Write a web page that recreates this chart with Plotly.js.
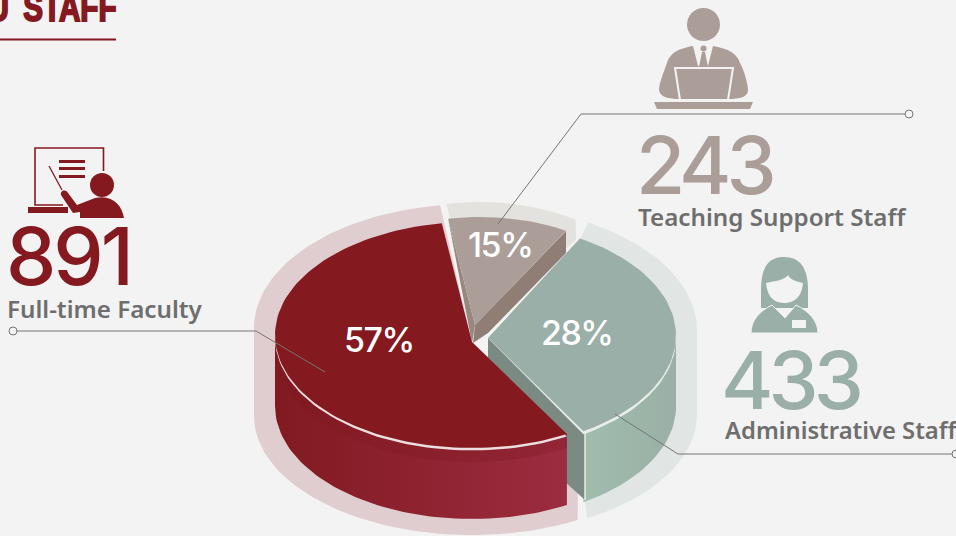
<!DOCTYPE html>
<html><head><meta charset="utf-8">
<script src="https://cdn.plot.ly/plotly-3.0.1.min.js"></script>
<style>
html,body{margin:0;padding:0;background:#f3f3f3;overflow:hidden}
#c{width:956px;height:536px}
g.annotation[data-index="0"] text{letter-spacing:-3px}
g.annotation[data-index="1"] text{letter-spacing:-5px}
g.annotation[data-index="2"] text{letter-spacing:-5px}
g.annotation[data-index="6"] text,g.annotation[data-index="7"] text,g.annotation[data-index="8"] text{letter-spacing:-1.5px}
g.annotation[data-index="9"] text{stroke:#841a20;stroke-width:2px;word-spacing:8px;transform-box:fill-box;transform-origin:100% 100%;transform:scaleX(.78)}
</style></head><body><div id="c"></div>
<script>
const categories=['Full-time Faculty','Teaching Support Staff','Administrative Staff'];
const counts=[891,243,433];
const shares=['57%','15%','28%'];
const title='U STAFF';

const RED='#841a20',GREY='#ab9e99',TEAL='#9aafa7',INK='#6e6e6e',BG='#f3f3f3';
const total=counts.reduce((a,b)=>a+b,0);
// Perspective of the drawing: where each wedge starts and how much it is foreshortened
const startAngle=[151.2,-10.2,30.8], warp=[0.977,0.693,1.178];
const sweep=counts.map((v,i)=>v/total*360*warp[i]);
const pt=(e,t)=>[e.cx+e.rx*Math.sin(t*Math.PI/180),e.cy-e.ry*Math.cos(t*Math.PI/180)];
function arc(e,a,b){const o=[],n=Math.max(2,Math.ceil(Math.abs(b-a)/2));
  for(let i=0;i<=n;i++)o.push(pt(e,a+(b-a)*i/n));return o;}
function poly(points,fill,extra){return Object.assign({type:'scatter',mode:'lines',x:points.map(p=>p[0]),y:points.map(p=>p[1]),
  fill:'toself',fillcolor:fill,line:{width:0},hoverinfo:'skip',showlegend:false},extra||{});}
const grad=(a,b)=>({fillgradient:{type:'horizontal',colorscale:[[0,a],[1,b]]}});

// ellipses
const eR={cx:472,cy:335,rx:197,ry:113}, eG={cx:480,cy:330,rx:180,ry:113}, eT={cx:479,cy:335.5,rx:197,ry:113};
const depth=71;
const down=(e,d)=>Object.assign({},e,{cy:e.cy+d});
const rA=startAngle[0], rB=rA+sweep[0], gA=startAngle[1], gB=gA+sweep[1], tA=startAngle[2], tB=tA+sweep[2];
const apexR=[472,342], apexG=[475,325], apexT=[488,338];

const haloRt={cx:472,cy:328,rx:218,ry:124}, haloRb={cx:472,cy:416,rx:218,ry:119};
const haloTt={cx:479,cy:330,rx:218,ry:124}, haloTb={cx:479,cy:415,rx:218,ry:119};
const haloGt={cx:480,cy:318,rx:180,ry:116};

const traces=[
 // halos
 poly([apexR,...arc(haloRt,rB+0.4,270),...arc(haloRb,270,151),[578,440]],'#e0cdd0'),
 poly([apexG,...arc(haloGt,gA-0.5,gB+3.6),[576,240]],'#e4e2df'),
 poly([[580,240],...arc(haloTt,30,90),...arc(haloTb,90,150.2),[585,502],[585,432],apexT],'#e1e6e4'),
 // grey walls
 poly([[566,231],[566,253],[488,333],[473,343],apexG],'#8f7d76'),
 poly([pt(eG,gA),apexG,[472,343]],'#97877f'),
 // teal side
 poly([...arc(eT,90,tB),...arc(down(eT,depth),tB,90)],'#9bb0a7',grad('#9fbdad','#9bafa6')),
 // teal inner wall
 poly([apexT,[585,432],[585,500],[488,412]],'#7b8a83'),
 // red side
 poly([...arc(eR,270,rA),...arc(down(eR,depth),rA,270)],RED,grad('#811a20','#9c2c40')),
 poly([...arc(eR,270,rA),...arc(down(eR,14),rA,270)],'rgba(125,22,32,0.3)'),
 // cream rims
 poly([apexR,...arc(down(eR,2.5),rA,rA+116),apexR],'#eddfdf'),
 poly([apexT,...arc(down(eT,3),tA+50,tB)],'#e9eeeb'),
 // tops
 poly([apexG,...arc(eG,gA,gB)],GREY),
 poly([apexT,...arc(eT,tA,tB)],TEAL),
 poly([apexR,...arc(eR,rA,rB)],RED)
];

const label=(x,y,text,size,color,font,xanchor,weight)=>({xref:'x',yref:'y',x,y,text,showarrow:false,xanchor:xanchor||'left',yanchor:'middle',
  font:{family:font,size,color,weight:weight||400},align:'left'});
const NUM='Inter, sans-serif', TXT='"Noto Sans", sans-serif';
const annotations=[
 label(4,255,String(counts[0]),80,RED,NUM,'left',500),
 label(634,164,String(counts[1]),80,GREY,NUM,'left',500),
 label(719,379,String(counts[2]),80,TEAL,NUM,'left',500),
 label(5,308,categories[0],24.2,INK,TXT,'left',600),
 label(636,216,categories[1],24.2,INK,TXT,'left',600),
 label(723,430,categories[2],23.8,INK,TXT,'left',600),
 label(381,339,shares[0],34,'#ffffff',NUM,'center',500),
 label(502,244,shares[1],34,'#ffffff',NUM,'center',500),
 label(579,332,shares[2],34,'#ffffff',NUM,'center',500),
 label(110.5,8,title,38,RED,'"Liberation Sans Narrow", sans-serif','right',700)
];

const line=(d,c,w)=>({type:'path',path:d,line:{color:c,width:w},layer:'above',xref:'x',yref:'y'});
const fillp=(d,c,lc,w)=>({type:'path',path:d,fillcolor:c,line:{color:lc||c,width:w||0},layer:'above',xref:'x',yref:'y'});
const circ=(x,y,r,c,lc,w)=>({type:'circle',x0:x-r,x1:x+r,y0:y-r,y1:y+r,fillcolor:c,line:{color:lc||c,width:w||0},layer:'above',xref:'x',yref:'y'});
const LEAD='#757575';
const shapes=[
 // title rule
 line('M0,39.5 L116,39.5',RED,2),
 // leaders
 line('M13,331 L256,331 L325,372',LEAD,1),
 line('M909,114 L581,114 L498,224',LEAD,1),
 line('M956,454 L678,454 L615,414',LEAD,1),
 circ(13,331,4,BG,LEAD,1), circ(909,114,4,BG,LEAD,1), circ(956,454,4,BG,LEAD,1),
 // slice edge highlight
 line('M585,432 L585,500','#eef2f0',1.4),
 // teacher
 line('M63,205 L35,205 L35,148 L103.5,148 L103.5,171',RED,1.6),
 fillp('M28,207 L68,207 L68,213 L28,213 Z',RED),
 fillp('M59,160 L85,160 L85,163 L59,163 Z',RED),
 fillp('M59,167 L85,167 L85,170 L59,170 Z',RED),
 fillp('M59,175 L85,175 L85,178 L59,178 Z',RED),
 line('M49,166 L62,190',RED,1.3),
 circ(102,185,12,RED),
 fillp('M61,195 C60,190 66,189 68,193 L77,205 L95,198 C112,194 122,205 124,218 L80,218 L80,212 L73,213 Z',RED),
 // support staff
 circ(703.5,24.5,16.5,GREY),
 fillp('M693,46 C676,49 670,54 667,63 C663,74 659,84 659,90 C660,97 668,99 680,99 L728,99 C740,99 748,97 748,90 C748,84 744,70 740,63 C737,54 730,49 713,46 L708,66 L698,66 Z',GREY),
 circ(703.5,48.5,3,GREY),
 fillp('M702,52 L705,52 L708,67 L699,67 Z',GREY),
 fillp('M675,68 L733,68 L728,100 L680,100 Z',GREY,BG,2),
 fillp('M654,102 L753,102 L750,109 L657,109 Z',GREY),
 // administrative staff
 fillp('M761,308 L761,290 C761,265 770,257 784,257 C800,257 808,268 808,290 L808,308 Z',TEAL),
 fillp('M766,283 C775,281 785,280 788,275 C790,280 798,282 803,283 C802,294 797,303 784,303 C772,303 767,294 766,283 Z',BG),
 fillp('M751,333 C751,320 760,311 772,305 L785,318 L796,305 C808,311 818,320 818,333 Z',TEAL,BG,1),
 fillp('M792,320 L806,320 L806,328 L792,328 Z',BG)
];

Plotly.newPlot('c',traces,{
 width:956,height:536,margin:{l:0,r:0,t:0,b:0},paper_bgcolor:BG,plot_bgcolor:BG,showlegend:false,
 xaxis:{range:[0,956],visible:false,fixedrange:true},
 yaxis:{range:[536,0],visible:false,fixedrange:true},
 annotations,shapes
},{displayModeBar:false,staticPlot:true});
</script></body></html>
